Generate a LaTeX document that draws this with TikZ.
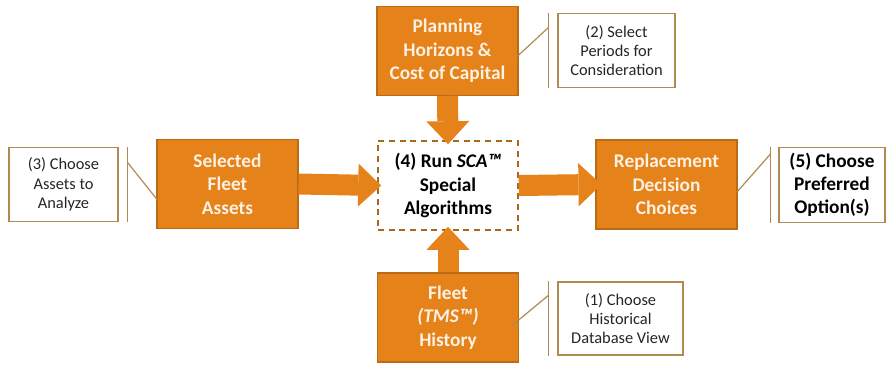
\documentclass[tikz,border=0pt]{standalone}
\usepackage{fontspec}
\setmainfont{Carlito}
\usetikzlibrary{calc,arrows.meta}
\definecolor{boxorange}{HTML}{E5821A}
\definecolor{boxedge}{HTML}{B96B16}
\definecolor{calledge}{HTML}{B08A50}
\definecolor{coreedge}{HTML}{A8691E}
\definecolor{boxtext}{HTML}{FDF1E3}
\definecolor{calltext}{HTML}{262626}

\tikzset{
  blk/.style={draw=boxedge, fill=boxorange, line width=0.8pt, minimum width=105.75pt, minimum height=66.75pt,
    align=center, text=boxtext, font=\fontsize{14.5}{17.6}\selectfont\bfseries, inner sep=0pt},
  core/.style={draw=coreedge, line width=1.2pt, dash pattern=on 4.5pt off 3.5pt, fill=white, minimum width=105pt,
    minimum height=66.75pt, align=center, text=black, font=\fontsize{14.5}{17.6}\selectfont\bfseries, inner sep=0pt},
  callout/.style={draw=calledge, line width=0.9pt, fill=white, align=center, text=calltext,
    font=\fontsize{12.3}{14.5}\selectfont, inner sep=0pt, minimum height=56pt},
  bar/.style={draw=calledge, line width=0.9pt},
  blockarrow/.style={draw=boxorange, line width=15.75pt, shorten >=-3pt,
    -{Triangle[length=17.25pt,width=32.25pt,line width=0pt]}}
}

\begin{document}
\begin{tikzpicture}[x=0.75pt,y=-0.75pt]
\useasboundingbox (0,0) rectangle (886,365);

% main boxes
\node[blk] (plan) at (447.5,51) {Planning\\Horizons \&\\Cost of Capital};
\node[core] (run) at (448,185.5) {(4) Run \textit{SCA™}\\Special\\Algorithms};
\node[blk] (fleet) at (448,317.5) {Fleet\\\textit{(TMS™)}\\History};
\node[blk] (assets) at (227.5,184) {Selected\\Fleet\\Assets};
\node[blk] (repl) at (666.5,184.5) {Replacement\\Decision\\Choices};

% callouts
\node[callout, minimum width=87.75pt] (c2) at (616.5,50.5) {(2) Select\\Periods for\\Consideration};
\node[callout, minimum width=81.75pt] (c3) at (63.5,184.5) {(3) Choose\\Assets to\\Analyze};
\node[callout, minimum width=79.5pt, font=\fontsize{14.5}{17}\selectfont\bfseries, text=black] (c5) at (832,185) {(5) Choose\\Preferred\\Option(s)};
\node[callout, minimum width=93.75pt, minimum height=54.75pt] (c1) at (620.5,318.5) {(1) Choose\\Historical\\Database View};

% block arrows
\draw[blockarrow] (plan.south) -- (run.north);
\draw[blockarrow] (fleet.north) -- (run.south);
\draw[blockarrow] (assets.east) -- (run.west);
\draw[blockarrow, shorten >=-4.5pt] (run.east) -- (repl.west);

% accent bars and leaders
\draw[bar] ($(c2.north west)+(-9,0)$) -- ($(c2.south west)+(-9,0)$);
\draw[bar] ($(c2.north west)+(-9,15)$) -- ($(plan.east)+(-2,6)$);
\draw[bar] ($(c3.north east)+(9,0)$) -- ($(c3.south east)+(9,0)$);
\draw[bar] ($(c3.north east)+(9,16)$) -- ($(assets.west)+(1,16)$);
\draw[bar] ($(c5.north west)+(-8,0)$) -- ($(c5.south west)+(-8,0)$);
\draw[bar] ($(c5.north west)+(-8,7)$) -- ($(repl.east)+(-1,8)$);
\draw[bar] ($(c1.north west)+(-9,0)$) -- ($(c1.south west)+(-9,0)$);
\draw[bar] ($(c1.north west)+(-9,14)$) -- ($(fleet.east)+(-7,8)$);
\end{tikzpicture}
\end{document}
